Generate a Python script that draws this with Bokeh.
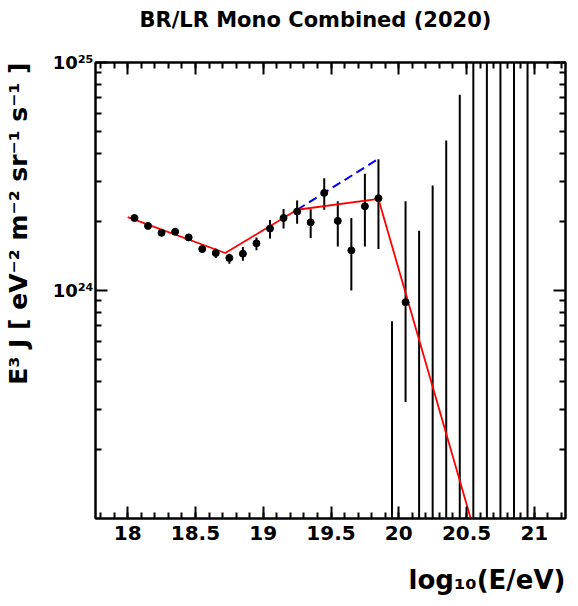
from bokeh.plotting import figure
from bokeh.models import (ColumnDataSource, FixedTicker, SingleIntervalTicker,
                          LinearAxis, LogAxis, Title, CustomJSTickFormatter, Range1d)
from bokeh.embed import file_html
from bokeh.resources import INLINE

# ---- data ----
log_e = [18.05, 18.15, 18.25, 18.35, 18.45, 18.55, 18.65, 18.75, 18.85, 18.95,
         19.05, 19.15, 19.25, 19.35, 19.45, 19.55, 19.65, 19.75, 19.85, 20.05]
flux = [2.08e24, 1.92e24, 1.79e24, 1.81e24, 1.71e24, 1.52e24, 1.46e24, 1.39e24, 1.45e24, 1.61e24,
        1.87e24, 2.08e24, 2.22e24, 1.99e24, 2.68e24, 2.02e24, 1.50e24, 2.34e24, 2.54e24, 0.889e24]
flux_hi = [2.10e24, 1.94e24, 1.81e24, 1.84e24, 1.74e24, 1.59e24, 1.53e24, 1.45e24, 1.55e24, 1.71e24,
           2.04e24, 2.28e24, 2.48e24, 2.27e24, 3.11e24, 2.46e24, 2.08e24, 3.25e24, 3.76e24, 2.46e24]
flux_lo = [2.06e24, 1.90e24, 1.77e24, 1.78e24, 1.68e24, 1.46e24, 1.39e24, 1.31e24, 1.35e24, 1.50e24,
           1.69e24, 1.87e24, 1.96e24, 1.70e24, 2.26e24, 1.56e24, 1.00e24, 1.56e24, 1.52e24, 0.324e24]

# empty bins: zero flux, error bar reaching up to these values
limit_e = [19.95, 20.15, 20.25, 20.35, 20.45, 20.55, 20.65, 20.75, 20.85, 20.95]
limit_hi = [7.33e23, 1.83e24, 2.89e24, 4.55e24, 7.22e24, 1.15e25, 1.8e25, 2.8e25, 4.5e25, 7.0e25]
limit_lo = [1e20] * len(limit_e)

# broken power-law fit (red) and the unbroken extension (blue dashed)
fit_e = [18.0, 18.72, 19.25, 19.85, 20.6]
fit_j = [2.10e24, 1.46e24, 2.26e24, 2.52e24, 7.2e22]
ext_e = [19.25, 19.85]
ext_j = [2.26e24, 3.78e24]

x_ticks_interval = 0.5
y_major = [1e24, 1e25]
y_minor = [k * 10.0 ** e for e in (23, 24) for k in range(2, 10)]

TITLE = "BR/LR Mono Combined (2020)"
YTITLE = "E\u00b3 J [ eV\u207b\u00b2 m\u207b\u00b2 sr\u207b\u00b9 s\u207b\u00b9 ]"
XTITLE = "log\u2081\u2080(E/eV)"

FONT = "DejaVu Sans"

p = figure(width=578, height=606, y_axis_type="log",
           x_range=Range1d(17.7625, 21.23), y_range=Range1d(1e23, 1e25),
           output_backend="svg", toolbar_location=None,
           min_border_left=95, min_border_right=13, min_border_top=62, min_border_bottom=88)
p.grid.visible = False
p.outline_line_color = "black"
p.outline_line_width = 2
p.background_fill_color = "white"
p.border_fill_color = "white"


def set_gap(title, side_pad, fallback_standoff):
    """Push a title away from the frame using padding on the frame side."""
    try:
        title.padding = dict(left=0, right=0, top=side_pad[0], bottom=side_pad[1])
        title.standoff = 0
    except Exception:
        title.standoff = fallback_standoff


# main title
p.title.text = TITLE
p.title.align = "left"
p.title.offset = 44
p.title.text_font = FONT
p.title.text_font_style = "bold"
p.title.text_font_size = "21px"
p.title.text_color = "black"
set_gap(p.title, (0, 31), 36)

# data
src = ColumnDataSource(dict(x=log_e, y=flux, lo=flux_lo, hi=flux_hi))
lim = ColumnDataSource(dict(x=limit_e, lo=limit_lo, hi=limit_hi))
p.segment(x0="x", y0="lo", x1="x", y1="hi", source=src, line_color="black", line_width=2)
p.segment(x0="x", y0="lo", x1="x", y1="hi", source=lim, line_color="black", line_width=2)
p.line(ext_e, ext_j, line_color="blue", line_width=2, line_dash="9 5")
p.line(fit_e, fit_j, line_color="red", line_width=1.8)
p.scatter(x="x", y="y", source=src, size=7, color="black")

# axes styling
def style(ax, labels=True, size="20px"):
    ax.major_tick_in = 12
    ax.major_tick_out = 0
    ax.minor_tick_in = 6
    ax.minor_tick_out = 0
    ax.major_tick_line_width = 2
    ax.minor_tick_line_width = 2
    ax.axis_line_width = 2
    ax.major_label_text_font = FONT
    ax.major_label_text_font_style = "bold"
    ax.major_label_text_color = "black"
    if labels:
        ax.major_label_text_font_size = size
    else:
        ax.major_label_text_font_size = "1px"
        ax.major_label_text_alpha = 0
        ax.major_label_standoff = 0

xt = SingleIntervalTicker(interval=x_ticks_interval, num_minor_ticks=5)
yt = FixedTicker(ticks=y_major, minor_ticks=y_minor)
yfmt = CustomJSTickFormatter(code="""
const sup = {'0':'\u2070','1':'\u00b9','2':'\u00b2','3':'\u00b3','4':'\u2074','5':'\u2075','6':'\u2076','7':'\u2077','8':'\u2078','9':'\u2079'};
const e = Math.round(Math.log10(tick));
return '10' + String(e).split('').map(c => sup[c]).join('');
""")

p.xaxis[0].ticker = xt
style(p.xaxis[0])
p.xaxis[0].major_label_standoff = 7
p.yaxis[0].ticker = yt
p.yaxis[0].formatter = yfmt
style(p.yaxis[0], size="18px")
p.yaxis[0].major_label_standoff = 2

top = LinearAxis(ticker=xt)
style(top, labels=False)
p.add_layout(top, "above")
right = LogAxis(ticker=yt)
style(right, labels=False)
p.add_layout(right, "right")

ytitle = Title(text=YTITLE, align="right", text_font=FONT, text_font_style="bold",
               text_font_size="25px", text_color="black")
set_gap(ytitle, (0, 17), 15)
p.add_layout(ytitle, "left")

xtitle = Title(text=XTITLE, align="right", text_font=FONT, text_font_style="bold",
               text_font_size="26px", text_color="black")
set_gap(xtitle, (20, 0), 27)
p.add_layout(xtitle, "below")

open("out.html", "w").write(file_html(p, INLINE))
